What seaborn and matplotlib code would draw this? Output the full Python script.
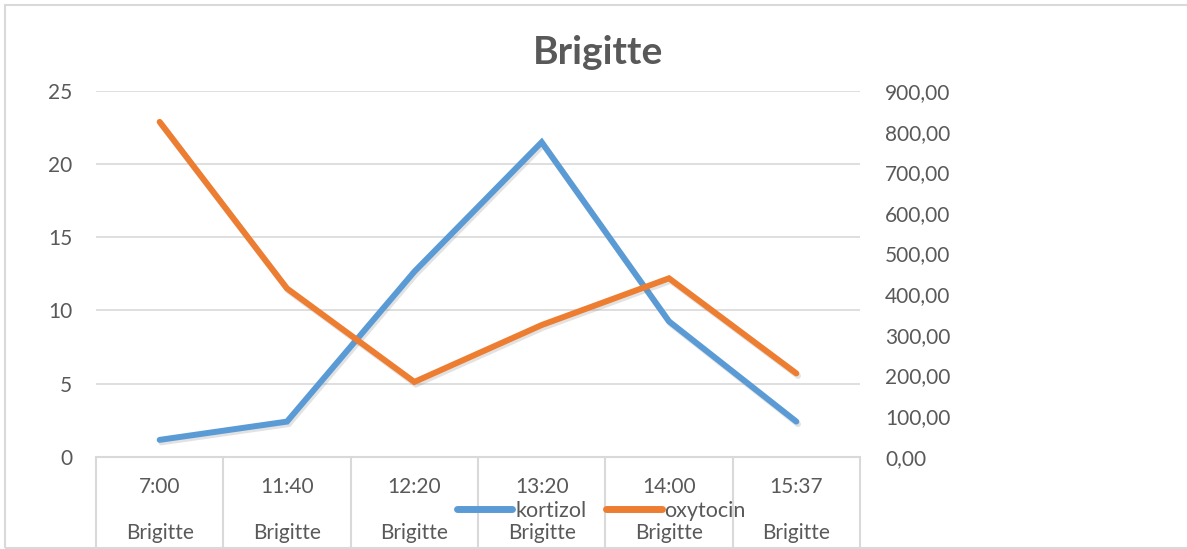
import numpy as np
import pandas as pd

import matplotlib
matplotlib.use('Agg')
import matplotlib.pyplot as plt
import matplotlib.patheffects as pe
from matplotlib.lines import Line2D
from matplotlib.patches import Rectangle
from matplotlib.ticker import FuncFormatter, MultipleLocator
import seaborn as sns

TIMES = ['7:00', '11:40', '12:20', '13:20', '14:00', '15:37']
GROUP = 'Brigitte'
KORTIZOL = [1.15, 2.4, 12.65, 21.5, 9.25, 2.4]
OXYTOCIN = [824.0, 414.0, 184.0, 324.0, 439.0, 205.0]

BLUE = '#5B9BD5'
ORANGE = '#ED7D31'
GRID = '#D9D9D9'
TEXT = '#595959'
FONT = ['Lato', 'DejaVu Sans']

sns.set_theme(style='white')
plt.rcParams['font.family'] = FONT

df = pd.DataFrame({'pos': np.arange(len(TIMES)), 'time': TIMES,
                   'kortizol': KORTIZOL, 'oxytocin': OXYTOCIN})

W, H = 1187, 549
fig = plt.figure(figsize=(W / 100, H / 100), dpi=100)
ax = fig.add_axes([96 / W, 1 - 456.7 / H, (860 - 96) / W, (456.7 - 91) / H])
ax2 = ax.twinx()

shadow = [pe.SimpleLineShadow(offset=(1.2, -1.8), alpha=0.22, shadow_color='#7f7f7f'), pe.Normal()]

sns.lineplot(data=df, x='pos', y='kortizol', ax=ax, color=BLUE, linewidth=4.3,
             solid_capstyle='round', solid_joinstyle='miter', path_effects=shadow, legend=False)
sns.lineplot(data=df, x='pos', y='oxytocin', ax=ax2, color=ORANGE, linewidth=4.3,
             solid_capstyle='round', solid_joinstyle='miter', path_effects=shadow, legend=False)

ax.set_xlim(-0.5, len(TIMES) - 0.5)
ax.set_ylim(0, 25)
ax2.set_ylim(0, 900)
ax.yaxis.set_major_locator(MultipleLocator(5))
ax2.yaxis.set_major_locator(MultipleLocator(100))
ax2.yaxis.set_major_formatter(FuncFormatter(lambda v, p: f'{v:.2f}'.replace('.', ',')))

ax.grid(axis='y', color=GRID, linewidth=1.2)
ax.grid(axis='x', visible=False)
ax2.grid(False)
ax.set_axisbelow(True)

for a in (ax, ax2):
    for s in a.spines.values():
        s.set_visible(False)
    a.set_xlabel('')
    a.set_ylabel('')
    a.tick_params(length=0, labelsize=15, colors=TEXT)
ax.spines['bottom'].set_visible(True)
ax.spines['bottom'].set_color(GRID)
ax.spines['bottom'].set_linewidth(1.5)
ax.tick_params(axis='y', pad=17)
ax2.tick_params(axis='y', pad=18)

# category axis: times, group name and separators
ax.set_xticks(df['pos'], labels=[])
tr = ax.get_xaxis_transform()
ax_h = 456.7 - 91
for i, t in enumerate(TIMES):
    ax.text(i, -(487 - 456.7) / ax_h, t, transform=tr, ha='center', va='center',
            fontsize=15, color=TEXT)
    ax.text(i, -(533 - 456.7) / ax_h, GROUP, transform=tr, ha='center', va='center',
            fontsize=15, color=TEXT)
ax.vlines(np.arange(len(TIMES) + 1) - 0.5, -(H - 456.7) / ax_h, 0, transform=tr,
          colors=GRID, linewidth=1.5, clip_on=False)

fig.text(598 / W, 1 - 52 / H, GROUP, ha='center', va='center', fontsize=28,
         fontweight='bold', color=TEXT)

handles = [Line2D([], [], color=BLUE, linewidth=5, solid_capstyle='round'),
           Line2D([], [], color=ORANGE, linewidth=5, solid_capstyle='round')]
fig.legend(handles, ['kortizol', 'oxytocin'], loc='center', ncol=2,
           bbox_to_anchor=(601 / W, 1 - 511 / H), frameon=False, fontsize=15.5,
           labelcolor=TEXT, handlelength=2.6, handletextpad=0.12, columnspacing=0.9,
           borderpad=0, borderaxespad=0)

fig.patches.append(Rectangle((5 / W, 1 - 548 / H), 1.2, 543 / H, transform=fig.transFigure,
                             fill=False, edgecolor=GRID, linewidth=1.5))

fig.savefig('out.png', dpi=100)
